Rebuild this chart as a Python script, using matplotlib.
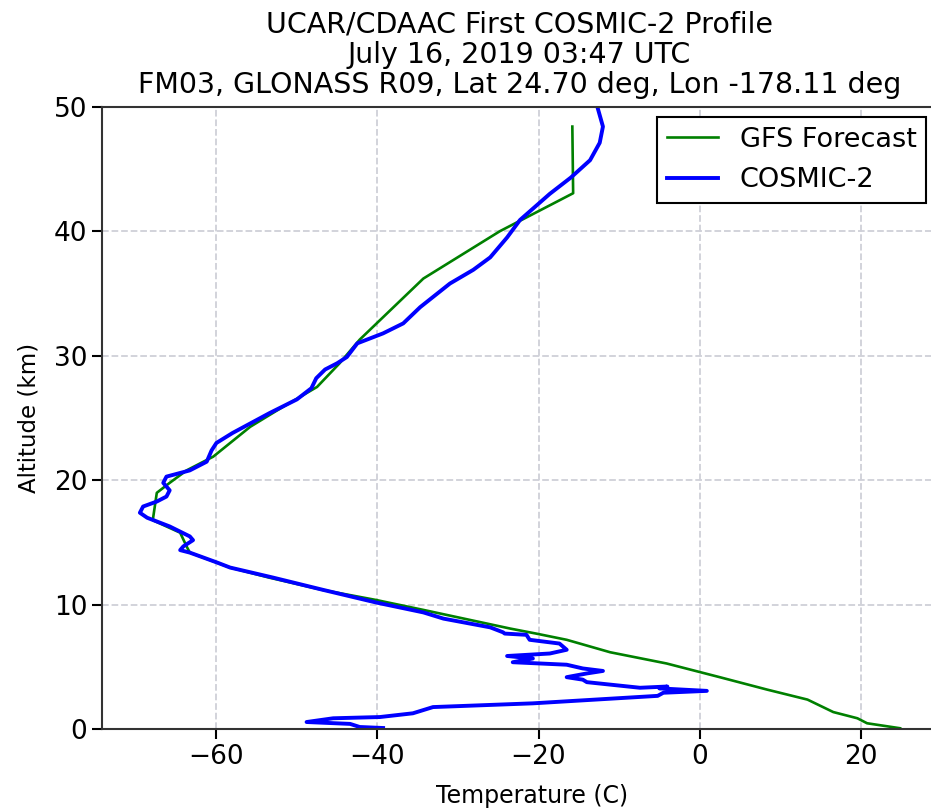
import numpy as np
import matplotlib
matplotlib.use("Agg")
import matplotlib.pyplot as plt

# GFS forecast profile (temperature C, altitude km)
gfs_temp = [-15.8, -15.7, -24.8, -34.3, -42.2, -44.7, -47.5, -52.5, -55.8, -60.4,
            -63.7, -65.8, -67.4, -67.9, -64.5, -63.7, -63.3, -58.3, -53.5, -46.8,
            -40.2, -34.3, -23.5, -20.3, -16.5, -11.1, -4.1, 2.5, 8.4, 13.4,
            16.6, 19.6, 20.8, 24.9]
gfs_alt = [48.4, 43.05, 40.0, 36.2, 31.3, 29.4, 27.5, 25.6, 24.3, 21.9,
           20.8, 19.8, 19.0, 16.8, 15.8, 14.7, 14.2, 13.0, 12.2, 11.2,
           10.4, 9.6, 8.1, 7.7, 7.2, 6.2, 5.3, 4.2, 3.2, 2.4,
           1.4, 0.9, 0.5, 0.1]

# COSMIC-2 retrieved profile
c2_temp = [-12.7, -12.0, -12.4, -13.6, -16.0, -18.6, -22.3, -23.9, -26.0, -28.1,
           -31.0, -34.7, -36.8, -39.3, -42.5, -43.8, -45.0, -46.5, -47.6, -48.2,
           -50.0, -53.4, -58.0, -60.0, -60.6, -61.2, -63.3, -66.2, -66.6, -65.8,
           -66.2, -67.4, -69.1, -69.5, -68.6, -67.4, -65.8, -63.3, -62.9, -64.1,
           -64.5, -63.3, -59.9, -58.3, -53.0, -46.7, -40.2, -34.3, -31.8, -26.0,
           -24.4, -24.2, -21.5, -21.1, -17.4, -16.5, -18.6, -23.9, -20.7, -23.2,
           -16.5, -14.5, -12.0, -14.0, -16.5, -14.5, -14.0, -7.4, -4.0, -5.0,
           0.9, -4.5, -5.2, -20.7, -33.1, -35.6, -39.7, -45.5, -48.8, -43.4,
           -42.2, -39.3]
c2_alt = [50.0, 48.4, 47.1, 45.7, 44.3, 43.0, 40.9, 39.5, 37.9, 36.9,
          35.8, 33.9, 32.6, 31.8, 31.0, 29.9, 29.4, 28.9, 28.2, 27.4,
          26.5, 25.4, 23.8, 23.0, 22.4, 21.5, 20.8, 20.3, 19.8, 19.2,
          18.7, 18.3, 17.9, 17.4, 17.0, 16.7, 16.3, 15.5, 15.2, 14.7,
          14.4, 14.2, 13.4, 13.0, 12.2, 11.2, 10.2, 9.4, 8.9, 8.2,
          7.8, 7.7, 7.6, 7.2, 6.9, 6.4, 6.1, 5.9, 5.7, 5.4,
          5.2, 4.9, 4.7, 4.5, 4.2, 4.0, 3.8, 3.35, 3.45, 3.3,
          3.1, 2.95, 2.7, 2.1, 1.8, 1.3, 1.0, 0.9, 0.6, 0.45,
          0.2, 0.12]

title_txt = ("UCAR/CDAAC First COSMIC-2 Profile\n"
             "July 16, 2019 03:47 UTC\n"
             "FM03, GLONASS R09, Lat 24.70 deg, Lon -178.11 deg")

plt.rcParams['font.family'] = ['DejaVu Sans']

fig = plt.figure(figsize=(9.31, 8.11), dpi=100)
# right edge of the axes sits just past the picture, as in the original crop
ax = fig.add_axes([0.1096, 0.1005, 0.897, 0.768])

ax.plot(gfs_temp, gfs_alt, color='green', lw=1.9, label='GFS Forecast')
ax.plot(c2_temp, c2_alt, color='blue', lw=2.8, label='COSMIC-2')

ax.set_xlim(-74.2, 29.5)
ax.set_ylim(0, 50)
ax.set_xticks([-60, -40, -20, 0, 20])
ax.set_yticks([0, 10, 20, 30, 40, 50])
ax.grid(True, color='#cfd0d8', linestyle='--', lw=1.3)
ax.tick_params(labelsize=19, width=1.5, length=7)
for s in ax.spines.values():
    s.set_color('#333333')
    s.set_linewidth(1.5)

ax.set_xlabel('Temperature (C)', fontsize=17)
ax.xaxis.set_label_coords(0.515, -0.087)
ax.set_ylabel('Altitude (km)', fontsize=16.5, labelpad=10)
ax.set_title(title_txt, fontsize=20.5, linespacing=1.1, pad=10)

leg = ax.legend(loc='upper right', fontsize=19.5, fancybox=False,
                edgecolor='black', framealpha=1, borderaxespad=0.4,
                borderpad=0.35, handlelength=1.9, labelspacing=0.53)
leg.get_frame().set_linewidth(1.5)

fig.savefig('out.png', dpi=100)
